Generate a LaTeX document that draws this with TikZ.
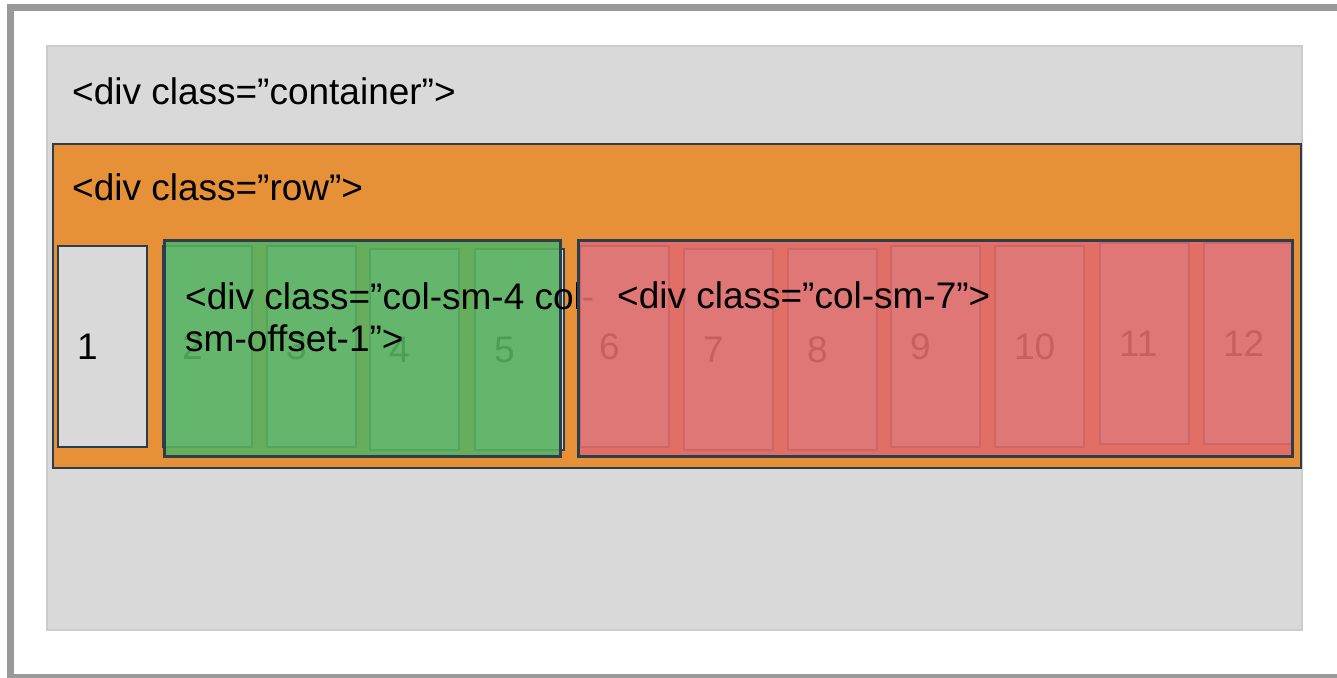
\documentclass[tikz,border=0pt]{standalone}
\usepackage{fontspec}
\setmainfont{Liberation Sans}
\definecolor{framegray}{HTML}{999999}
\definecolor{boxgray}{HTML}{D9D9D9}
\definecolor{boxline}{HTML}{CCCCCC}
\definecolor{roworange}{HTML}{E69138}
\definecolor{edgeslate}{HTML}{2B3E4E}
\definecolor{offgreen}{RGB}{87,178,96}
\definecolor{sevenred}{RGB}{225,107,107}
\tikzset{
  gridcell/.style={draw=edgeslate, line width=2pt, fill=boxgray, anchor=north west,
    minimum width=89pt, minimum height=201pt, inner xsep=19pt, text width=51pt, align=left,
    text depth=-4pt},
  colbox/.style={draw=edgeslate, line width=2.5pt, fill opacity=0.89, anchor=north west, inner sep=0pt},
  divtag/.style={anchor=base west, inner sep=0pt}
}

\begin{document}
\begin{tikzpicture}[x=1pt,y=-1pt,font=\fontsize{37}{42.5}\selectfont]
                \useasboundingbox (0,0) rectangle (1337,677);
                \draw[framegray, line width=7pt] (10.5,7.5) rectangle (1345,677);
                \node[draw=boxline, line width=2pt, fill=boxgray, anchor=north west, minimum width=1255pt, minimum height=584pt] (container) at (46,45) {};
                \node[divtag] (containertag) at (72,104) {<div class=”container”>};
                \node[draw=edgeslate, line width=2pt, fill=roworange, anchor=north west, minimum width=1248pt, minimum height=324pt] (row) at (52,143) {};
                \node[divtag] (rowtag) at (72,200) {<div class=”row”>};
                % twelve columns
                \node[gridcell] (c1) at (57,245) {1};
                \node[gridcell] (c2) at (162,245) {2};
                \node[gridcell] (c3) at (266,245) {3};
                \node[gridcell] (c4) at (369,248) {4};
                \node[gridcell] (c5) at (474,248) {5};
                \node[gridcell] (c6) at (579,245) {6};
                \node[gridcell] (c7) at (683,248) {7};
                \node[gridcell] (c8) at (787,248) {8};
                \node[gridcell] (c9) at (890,245) {9};
                \node[gridcell] (c10) at (994,245) {10};
                \node[gridcell] (c11) at (1099,242) {11};
                \node[gridcell] (c12) at (1203,242) {12};
                % col-sm-4 col-sm-offset-1
                \node[colbox, fill=offgreen, minimum width=396pt, minimum height=216pt] (offsetbox) at (163,239) {};
                \node[anchor=north west, inner sep=0pt, align=left] (offsettag) at (185,282) {<div class=”col-sm-4 col-\\sm-offset-1”>};
                % col-sm-7
                \node[colbox, fill=sevenred, minimum width=714pt, minimum height=216pt] (sevenbox) at (577,239) {};
                \node[divtag] (seventag) at (617,308) {<div class=”col-sm-7”>};
\end{tikzpicture}
\end{document}
